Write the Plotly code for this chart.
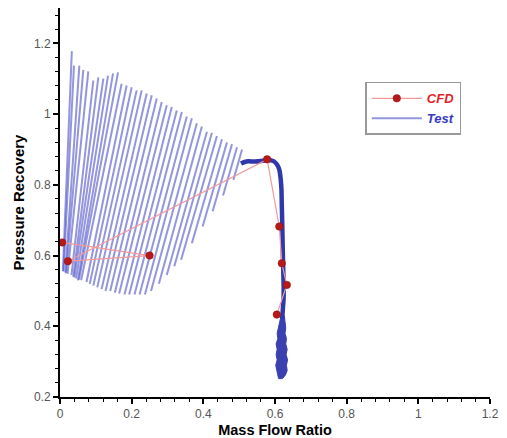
import plotly.graph_objects as go

# CFD points (in drawing order of the connecting line)
cfd_x = [0.006, 0.250, 0.022, 0.578, 0.612, 0.619, 0.633, 0.605]
cfd_y = [0.637, 0.600, 0.584, 0.872, 0.682, 0.578, 0.517, 0.433]

# Test: fan of sweep strands, top and bottom end of each strand
strand_top_x = [0.033, 0.039, 0.054, 0.065, 0.079, 0.093, 0.107, 0.121, 0.134, 0.148,
                0.162, 0.172, 0.186, 0.200, 0.214, 0.228, 0.242, 0.256, 0.270, 0.284,
                0.298, 0.312, 0.326, 0.340, 0.354, 0.368, 0.382, 0.396, 0.410, 0.424,
                0.438, 0.452, 0.466, 0.480, 0.494, 0.508]
strand_top_y = [1.178, 1.137, 1.137, 1.125, 1.121, 1.095, 1.104, 1.100, 1.109, 1.115,
                1.118, 1.086, 1.081, 1.076, 1.067, 1.067, 1.058, 1.053, 1.044, 1.034,
                1.025, 1.020, 1.010, 1.006, 0.993, 0.988, 0.974, 0.965, 0.950, 0.947,
                0.938, 0.929, 0.920, 0.915, 0.906, 0.900]
strand_bot_x = [0.008, 0.010, 0.015, 0.017, 0.021, 0.032, 0.037, 0.040, 0.045, 0.050,
                0.053, 0.059, 0.074, 0.083, 0.093, 0.104, 0.116, 0.127, 0.140, 0.153,
                0.165, 0.180, 0.193, 0.208, 0.222, 0.237, 0.254, 0.276, 0.298, 0.319,
                0.338, 0.368, 0.398, 0.426, 0.455, 0.484]
strand_bot_y = [0.556, 0.555, 0.552, 0.550, 0.548, 0.545, 0.540, 0.538, 0.535, 0.530,
                0.532, 0.530, 0.525, 0.520, 0.515, 0.510, 0.505, 0.500, 0.500, 0.495,
                0.493, 0.490, 0.490, 0.490, 0.490, 0.490, 0.500, 0.520, 0.545, 0.570,
                0.588, 0.635, 0.682, 0.725, 0.770, 0.814]

# Test: stall-free branch (knee and vertical drop)
curve_x = [0.505, 0.520, 0.545, 0.565, 0.580, 0.596, 0.606, 0.612, 0.616, 0.618,
           0.619, 0.620, 0.621, 0.622, 0.623, 0.624, 0.624, 0.622, 0.620]
curve_y = [0.860, 0.866, 0.866, 0.868, 0.870, 0.867, 0.857, 0.843, 0.815, 0.787,
           0.740, 0.700, 0.648, 0.600, 0.560, 0.520, 0.480, 0.450, 0.420]

# Test: scattered bottom of the vertical branch (left / right edges)
band_y = [0.430, 0.410, 0.395, 0.380, 0.365, 0.350, 0.335, 0.320, 0.305, 0.290, 0.275, 0.262, 0.252]
band_left = [0.617, 0.613, 0.609, 0.606, 0.608, 0.603, 0.606, 0.603, 0.606, 0.602, 0.605, 0.607, 0.610]
band_right = [0.626, 0.628, 0.630, 0.628, 0.632, 0.630, 0.634, 0.631, 0.635, 0.632, 0.634, 0.629, 0.621]

sx, sy = [], []
for x0, y0, x1, y1 in zip(strand_bot_x, strand_bot_y, strand_top_x, strand_top_y):
    sx += [x0, x1, None]
    sy += [y0, y1, None]

fig = go.Figure()
fig.add_trace(go.Scatter(
    x=sx, y=sy, mode='lines', name="<b><i><span style='color:#3a3ac4'>Test</span></i></b>",
    line=dict(color='rgba(80,86,200,0.62)', width=2), legendrank=2))
fig.add_trace(go.Scatter(
    x=band_left + band_right[::-1], y=band_y + band_y[::-1], mode='lines',
    fill='toself', fillcolor='#3a40b0', line=dict(color='#3a40b0', width=1),
    showlegend=False, hoverinfo='skip'))
fig.add_trace(go.Scatter(
    x=curve_x, y=curve_y, mode='lines', line=dict(color='#3039ab', width=4.5, shape='spline'),
    showlegend=False))
fig.add_trace(go.Scatter(
    x=cfd_x, y=cfd_y, mode='lines+markers', name="<b><i><span style='color:#e51e25'>CFD</span></i></b>",
    line=dict(color='#f29a9a', width=1.2),
    marker=dict(color='#b81818', size=7.5, line=dict(color='#8a1010', width=0.5)),
    legendrank=1))

axis_common = dict(
    showline=True, linecolor='black', linewidth=2, showgrid=False, zeroline=False,
    ticks='outside', ticklen=5, tickwidth=1.5, tickcolor='black', automargin=False,
    tickfont=dict(family='Liberation Sans, Arial', size=12, color='#555555'),
    minor=dict(ticks='outside', ticklen=3, tickwidth=1, tickcolor='black', dtick=0.04),
    dtick=0.2,
)

fig.update_layout(
    width=507, height=438,
    margin=dict(l=60, r=17, t=8, b=41),
    plot_bgcolor='white', paper_bgcolor='white',
    xaxis=dict(range=[0, 1.2], tick0=0,
               title=dict(text='<b>Mass Flow Ratio</b>', standoff=5,
                          font=dict(family='Liberation Sans, Arial', size=14.5, color='black')),
               **axis_common),
    yaxis=dict(range=[0.2, 1.3], tick0=0.2,
               title=dict(text='<b>Pressure Recovery</b>', standoff=6,
                          font=dict(family='Liberation Sans, Arial', size=15, color='black')),
               **axis_common),
    legend=dict(x=0.71, y=0.81, xanchor='left', yanchor='top',
                bordercolor='#999999', borderwidth=1.5, bgcolor='white',
                font=dict(family='Liberation Sans, Arial', size=13),
                itemwidth=50, tracegroupgap=0),
    showlegend=True,
)

# the page's default body margin would shift the figure by 8px
fig.write_html("out.html", config={'displayModeBar': False},
               post_script="document.body.style.margin='0';")
